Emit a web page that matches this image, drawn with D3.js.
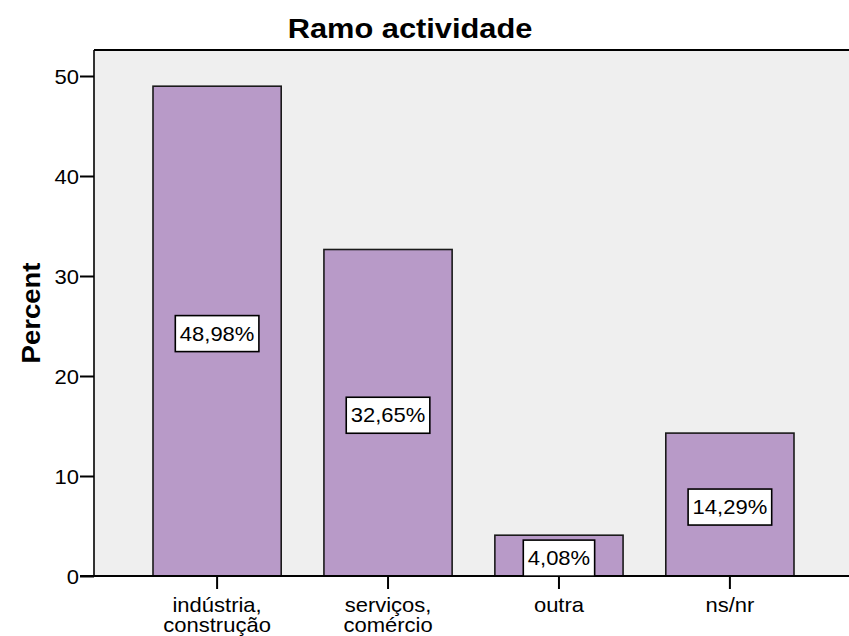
<!DOCTYPE html>
<html>
<head>
<meta charset="utf-8">
<script src="https://cdn.jsdelivr.net/npm/d3@7"></script>
<style>
body { margin: 0; background: #fff; }
text { font-family: "Liberation Sans", Arial, sans-serif; fill: #000; }
</style>
</head>
<body>
<script>
// data
var categories = ["indústria,\nconstrução", "serviços,\ncomércio", "outra", "ns/nr"];
var percents = [48.98, 32.65, 4.08, 14.29];
var valueLabels = ["48,98%", "32,65%", "4,08%", "14,29%"];
var yTicks = [0, 10, 20, 30, 40, 50];

var W = 849, H = 636;
var sx = 1.1; // texto um pouco mais largo no original

var svg = d3.select("body").append("svg").attr("width", W).attr("height", H);

var plotLeft = 94, plotTop = 50, plotBottom = 576;

var y = d3.scaleLinear().domain([0, 50]).range([plotBottom, 76]);
var x = d3.scaleBand().domain(categories).range([153, 794]).paddingInner(0.25).paddingOuter(0);

// fundo
svg.append("rect")
	.attr("x", plotLeft).attr("y", plotTop)
	.attr("width", W - plotLeft + 5).attr("height", plotBottom - plotTop)
	.attr("fill", "#efefef");

// barras
svg.selectAll("rect.bar")
	.data(percents)
	.enter()
	.append("rect")
	.attr("class", "bar")
	.attr("x", function(d, i){ return x(categories[i]); })
	.attr("y", function(d){ return y(d); })
	.attr("width", x.bandwidth())
	.attr("height", function(d){ return plotBottom - y(d); })
	.attr("fill", "#b89ac8")
	.attr("stroke", "#1a1a1a")
	.attr("stroke-width", 1.6);

// moldura
svg.append("line").attr("x1", plotLeft).attr("x2", W).attr("y1", plotTop).attr("y2", plotTop)
	.attr("stroke", "#000").attr("stroke-width", 2);
svg.append("line").attr("x1", plotLeft).attr("x2", plotLeft).attr("y1", plotTop).attr("y2", plotBottom)
	.attr("stroke", "#000").attr("stroke-width", 1.6);

// eixo y
var yAxis = svg.append("g")
	.attr("transform", "translate(" + plotLeft + ",0)")
	.call(d3.axisLeft(y).tickValues(yTicks).tickSize(14).tickPadding(0).tickFormat(d3.format("d")));
yAxis.select(".domain").remove();
yAxis.selectAll("line").attr("stroke", "#000").attr("stroke-width", 2);
yAxis.selectAll("text")
	.attr("font-size", 20)
	.attr("x", 0)
	.attr("dy", "0.36em")
	.attr("transform", "translate(-15,0) scale(" + sx + ",1)");

// eixo x
var xAxis = svg.append("g")
	.attr("transform", "translate(0," + plotBottom + ")")
	.call(d3.axisBottom(x).tickSize(13).tickFormat(""));
xAxis.select(".domain").remove();
xAxis.selectAll("line").attr("stroke", "#000").attr("stroke-width", 2);
svg.append("line").attr("x1", plotLeft - 14).attr("x2", W).attr("y1", plotBottom).attr("y2", plotBottom)
	.attr("stroke", "#000").attr("stroke-width", 2);

// uma linha de texto por elemento
xAxis.selectAll(".tick").each(function(d){
	var g = d3.select(this);
	d.split("\n").forEach(function(l, i){
		g.append("text")
			.attr("text-anchor", "middle")
			.attr("font-size", 20)
			.attr("transform", "translate(0," + (36 + i * 20) + ") scale(" + sx + ",1)")
			.text(l);
	});
});

// rotulos das barras
var lab = svg.selectAll("g.lab")
	.data(percents)
	.enter()
	.append("g")
	.attr("class", "lab")
	.attr("transform", function(d, i){
		return "translate(" + (x(categories[i]) + x.bandwidth() / 2) + "," + (y(d / 2) + 2.5) + ")";
	});
lab.each(function(d, i){
	var g = d3.select(this);
	var r = g.append("rect");
	var t = g.append("text")
		.attr("text-anchor", "middle")
		.attr("font-size", 20)
		.attr("dy", "0.36em")
		.attr("transform", "scale(" + sx + ",1)")
		.text(valueLabels[i]);
	var w = t.node().getComputedTextLength() * sx + 9;
	r.attr("x", -w / 2).attr("y", -18).attr("width", w).attr("height", 36)
		.attr("fill", "#fff").attr("stroke", "#000").attr("stroke-width", 1.6);
});

// titulo
svg.append("text")
	.attr("text-anchor", "middle")
	.attr("font-size", 28)
	.attr("font-weight", "bold")
	.attr("transform", "translate(410,38) scale(" + sx + ",1)")
	.text("Ramo actividade");

// titulo eixo y
svg.append("text")
	.attr("text-anchor", "middle")
	.attr("font-size", 25)
	.attr("font-weight", "bold")
	.attr("transform", "translate(40,313) rotate(-90) scale(" + sx + ",1)")
	.text("Percent");
</script>
</body>
</html>
